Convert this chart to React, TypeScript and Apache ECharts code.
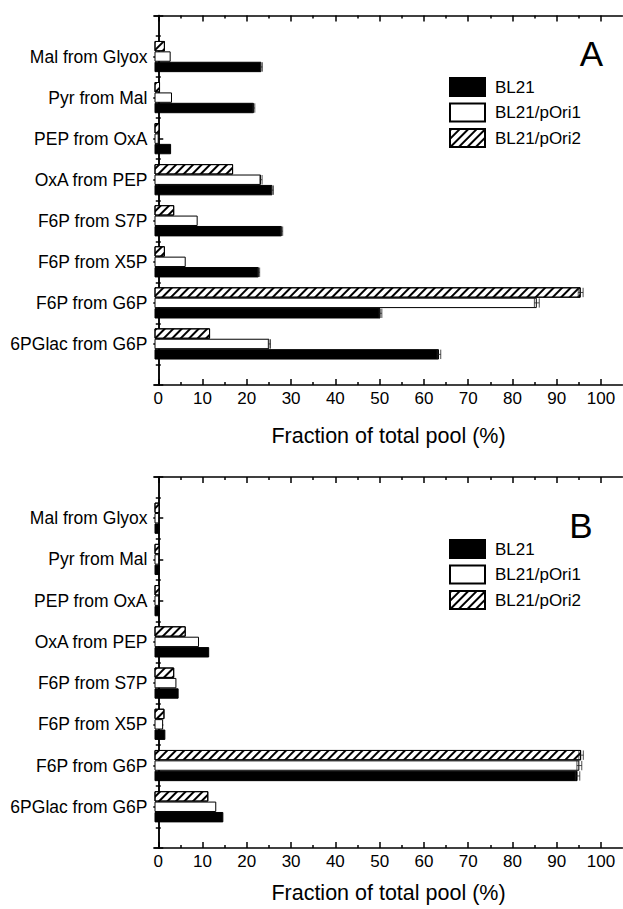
import React, { useEffect, useRef } from 'react';
import * as echarts from 'echarts';

// categories listed bottom -> top (y index 1..8)
const CATEGORIES = [
  '6PGlac from G6P',
  'F6P from G6P',
  'F6P from X5P',
  'F6P from S7P',
  'OxA from PEP',
  'PEP from OxA',
  'Pyr from Mal',
  'Mal from Glyox',
];
const SERIES_NAMES = ['BL21', 'BL21/pOri1', 'BL21/pOri2'];
const X_TICKS_MAJOR = [0, 10, 20, 30, 40, 50, 60, 70, 80, 90, 100];
const X_TICKS_MINOR = [5, 15, 25, 35, 45, 55, 65, 75, 85, 95];
const X_TITLE = 'Fraction of total pool (%)';

// Panel A (same order as CATEGORIES)
const A_BL21 = [63.4, 50.2, 22.7, 27.9, 25.8, 2.9, 21.6, 23.3];
const A_PORI1 = [25.1, 85.5, 6.2, 8.9, 23.2, 0.1, 3.1, 2.8];
const A_PORI2 = [11.7, 95.4, 1.5, 3.6, 16.9, 0.3, 0.4, 1.5];
const A_BL21_ERR = [0.4, 0.3, 0.2, 0.2, 0.2, 0, 0.2, 0.2];
const A_PORI1_ERR = [0.25, 0.55, 0, 0, 0.25, 0, 0, 0];
const A_PORI2_ERR = [0, 0.55, 0, 0, 0, 0, 0, 0];

// Panel B
const B_BL21 = [14.7, 94.7, 1.6, 4.6, 11.5, 0.3, 0.3, 0.3];
const B_PORI1 = [13.1, 95.1, 1.1, 4.1, 9.2, 0.2, 0.2, 0.2];
const B_PORI2 = [11.3, 95.5, 1.4, 3.6, 6.2, 0.3, 0.3, 0.3];
const B_BL21_ERR = [0, 0.5, 0, 0, 0, 0, 0, 0];
const B_PORI1_ERR = [0, 0.55, 0, 0, 0, 0, 0, 0];
const B_PORI2_ERR = [0, 0.5, 0, 0, 0, 0, 0, 0];

const X_MIN = -0.85;
const X_MAX = 104.85;
const BAR_W = 10.4;
const FONT = '"Liberation Sans", Arial, sans-serif';

const HATCH = {
  symbol: 'rect',
  symbolSize: 1,
  dashArrayX: [1, 0],
  dashArrayY: [1.2, 3.3],
  rotation: -Math.PI / 4,
  color: '#000',
  backgroundColor: '#fff',
};

const STYLES = [
  { color: '#000', borderColor: '#000', borderWidth: 1 },
  { color: '#fff', borderColor: '#000', borderWidth: 1 },
  { color: '#fff', borderColor: '#000', borderWidth: 1, decal: HATCH },
];

const PANELS = [
  {
    letter: 'A', top: 15.5, height: 369.5, legendTop: 77, letterX: 591.5, letterY: 53.5, nameGap: 40,
    values: [A_BL21, A_PORI1, A_PORI2], errors: [A_BL21_ERR, A_PORI1_ERR, A_PORI2_ERR],
  },
  {
    letter: 'B', top: 477, height: 371, legendTop: 539, letterX: 581, letterY: 525, nameGap: 34,
    values: [B_BL21, B_PORI1, B_PORI2], errors: [B_BL21_ERR, B_PORI1_ERR, B_PORI2_ERR],
  },
];

const GRID_LEFT = 154.5;
const GRID_WIDTH = 468;

function buildOption() {
  const grid: any[] = [];
  const xAxis: any[] = [];
  const yAxis: any[] = [];
  const series: any[] = [];
  const legend: any[] = [];
  const graphic: any[] = [];
  const lineStyle = { color: '#000', width: 1.5 };

  PANELS.forEach((p, g) => {
    grid.push({ left: GRID_LEFT, width: GRID_WIDTH, top: p.top, height: p.height, containLabel: false, outerBoundsMode: 'none' });
    const xBase = g * 5;
    const yBase = g * 3;
    // bottom major
    xAxis.push({
      gridIndex: g, type: 'value', position: 'bottom', min: X_MIN, max: X_MAX,
      axisLine: { show: true, lineStyle },
      axisTick: { show: true, inside: true, length: 6, customValues: X_TICKS_MAJOR, lineStyle },
      axisLabel: { show: true, customValues: X_TICKS_MAJOR, fontSize: 17, color: '#000', margin: 5, fontFamily: FONT },
      splitLine: { show: false },
      name: X_TITLE, nameLocation: 'middle', nameGap: p.nameGap,
      nameTextStyle: { fontSize: 21.5, color: '#000', fontFamily: FONT },
    });
    // bottom minor
    xAxis.push({
      gridIndex: g, type: 'value', position: 'bottom', min: X_MIN, max: X_MAX,
      axisLine: { show: false },
      axisTick: { show: true, inside: true, length: 3, customValues: X_TICKS_MINOR, lineStyle },
      axisLabel: { show: false }, splitLine: { show: false },
    });
    // top major
    xAxis.push({
      gridIndex: g, type: 'value', position: 'top', min: X_MIN, max: X_MAX,
      axisLine: { show: true, lineStyle },
      axisTick: { show: true, inside: true, length: 6, customValues: X_TICKS_MAJOR, lineStyle },
      axisLabel: { show: false }, splitLine: { show: false },
    });
    // top minor
    xAxis.push({
      gridIndex: g, type: 'value', position: 'top', min: X_MIN, max: X_MAX,
      axisLine: { show: false },
      axisTick: { show: true, inside: true, length: 3, customValues: X_TICKS_MINOR, lineStyle },
      axisLabel: { show: false }, splitLine: { show: false },
    });
    // data axis (bars start at the frame, like the original plot)
    xAxis.push({
      gridIndex: g, type: 'value', position: 'bottom', min: 0, max: X_MAX - X_MIN, show: false,
    });

    yAxis.push({
      gridIndex: g, type: 'category', position: 'left', boundaryGap: false,
      data: ['', ...CATEGORIES, ''],
      axisLine: { show: false }, axisTick: { show: false },
      axisLabel: { show: true, interval: 0, fontSize: 17.5, color: '#000', margin: 7, fontFamily: FONT },
      splitLine: { show: false },
    });
    ['left', 'right'].forEach((pos) => {
      yAxis.push({
        gridIndex: g, type: 'value', position: pos, min: 0, max: 9, interval: 1,
        axisLine: { show: true, lineStyle },
        axisTick: { show: true, inside: true, length: 5, lineStyle },
        minorTick: { show: true, splitNumber: 2, length: 2.5, lineStyle },
        axisLabel: { show: false }, splitLine: { show: false }, minorSplitLine: { show: false },
      });
    });

    // series order top -> bottom within a group: pOri2, pOri1, BL21
    const order = [2, 1, 0];
    const errData: any[] = [];
    order.forEach((s, k) => {
      series.push({
        name: SERIES_NAMES[s], type: 'bar', xAxisIndex: xBase + 4, yAxisIndex: yBase,
        barWidth: BAR_W, barGap: '0%',
        itemStyle: STYLES[s],
        emphasis: { disabled: true },
        data: [null, ...p.values[s].map((v) => v - X_MIN), null],
      });
      p.values[s].forEach((v, i) => {
        const e = p.errors[s][i];
        if (e > 0) errData.push([v - X_MIN, i + 1, e, k - 1]);
      });
    });
    series.push({
      type: 'custom', xAxisIndex: xBase + 4, yAxisIndex: yBase, z: 5, silent: true,
      data: errData,
      renderItem: (params: any, api: any) => {
        const v = api.value(0), c = api.value(1), e = api.value(2), slot = api.value(3);
        const y = api.coord([v, c])[1] + slot * BAR_W;
        const lo = api.coord([v - e, c])[0];
        const hi = api.coord([v + e, c])[0];
        const h = BAR_W / 2 - 0.5;
        const st = { stroke: '#222', lineWidth: 0.8 };
        return {
          type: 'group',
          children: [
            { type: 'line', shape: { x1: lo, y1: y, x2: hi, y2: y }, style: st },
            { type: 'line', shape: { x1: lo, y1: y - h, x2: lo, y2: y + h }, style: st },
            { type: 'line', shape: { x1: hi, y1: y - h, x2: hi, y2: y + h }, style: st },
          ],
        };
      },
    });

    legend.push({
      show: true, orient: 'vertical', left: 449, top: p.legendTop, padding: 0,
      itemWidth: 35, itemHeight: 18, itemGap: 5.5, icon: 'rect', selectedMode: false,
      data: SERIES_NAMES,
      textStyle: { fontSize: 17, color: '#000', fontFamily: FONT, padding: [0, 0, 0, 5] },
    });

    graphic.push({
      type: 'text', x: p.letterX, y: p.letterY,
      style: { text: p.letter, fontSize: 35, fill: '#000', fontFamily: FONT, align: 'center', verticalAlign: 'middle' },
    });
  });

  return {
    animation: false,
    backgroundColor: '#fff',
    textStyle: { fontFamily: FONT },
    grid, xAxis, yAxis, series, legend, graphic,
  };
}

export default function App() {
  const ref = useRef<HTMLDivElement>(null);
  useEffect(() => {
    if (!ref.current) return;
    const chart = echarts.init(ref.current, null, { renderer: 'svg' });
    chart.setOption(buildOption() as any);
    return () => chart.dispose();
  }, []);
  return (
    <div
      ref={ref}
      style={{ position: 'fixed', left: 0, top: 0, width: 623, height: 909, background: '#fff' }}
    />
  );
}
